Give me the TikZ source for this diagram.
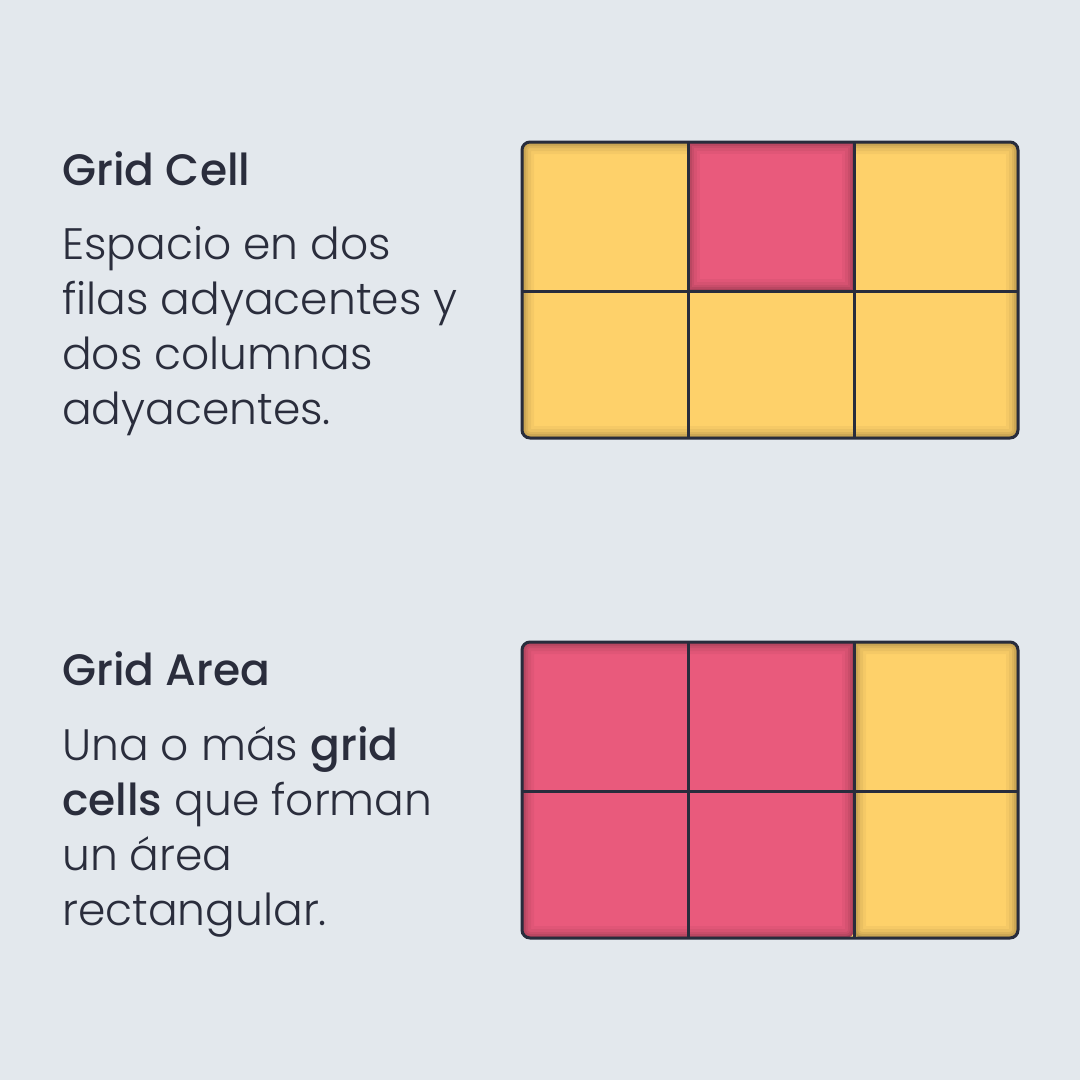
\documentclass[tikz,border=0pt]{standalone}
\usepackage{fontspec}
\setmainfont{Poppins}
\newfontfamily\bodyfont{Poppins Light}
\newfontfamily\titlefont{Poppins Medium}
\definecolor{bg}{HTML}{E3E8ED}
\definecolor{ink}{HTML}{2A2D3C}
\definecolor{gridline}{HTML}{282C3C}
\definecolor{sun}{HTML}{FED16A}
\definecolor{rose}{HTML}{E95A7C}
\tikzset{
  x=1pt, y=-1pt,
  title/.style={anchor=base west, inner sep=0pt, font=\titlefont\fontsize{44}{55}\selectfont, text=ink},
  body/.style={anchor=north west, inner sep=0pt, align=left, font=\bodyfont\fontsize{44}{55}\selectfont, text=ink},
  gline/.style={draw=gridline, line width=3pt},
}
% inset shadow along the border of a closed region
\newcommand\insetshade[1]{%
  \begin{scope}
    \clip #1;
    \foreach \w/\o in {24/0.035,18/0.045,12/0.06,8/0.07,4/0.09}{
      \draw[black, opacity=\o, line width=\w pt] #1;
    }
  \end{scope}}
\begin{document}
\begin{tikzpicture}
\fill[bg] (0,0) rectangle (1080,1080);
\useasboundingbox (0,0) rectangle (1080,1080);

% ---- Grid Cell ----
\node[title] (t1) at (62,185) {Grid Cell};
\node[body] (b1) at (62,226) {Espacio en dos\\filas adyacentes y\\dos columnas\\adyacentes.};

\fill[sun, rounded corners=8pt] (522,142) rectangle (1018,438);
\insetshade{[rounded corners=8pt] (522,142) rectangle (1018,438)}
\fill[rose] (688,142) rectangle (854,291);
\insetshade{(688,142) rectangle (854,291)}
\draw[gline] (522,291) -- (1018,291);
\draw[gline] (688,142) -- (688,438);
\draw[gline] (854,142) -- (854,438);
\draw[gline, rounded corners=8pt] (522,142) rectangle (1018,438);

% ---- Grid Area ----
\node[title] (t2) at (62,685) {Grid Area};
\node[body] (b2) at (62,726) {Una o más {\titlefont grid}\\{\titlefont cells} que forman\\un área\\rectangular.};

\fill[sun, rounded corners=8pt] (522,642) rectangle (1018,938);
\insetshade{[rounded corners=8pt] (854,642) -- (1018,642) -- (1018,938) -- (854,938) [sharp corners] -- cycle}
\fill[rose, rounded corners=8pt] (854,642) -- (522,642) -- (522,938) -- (854,938) [sharp corners] -- cycle;
\insetshade{[rounded corners=8pt] (854,642) -- (522,642) -- (522,938) -- (854,938) [sharp corners] -- cycle}
\draw[gline] (522,791) -- (1018,791);
\draw[gline] (688,642) -- (688,938);
\draw[gline] (854,642) -- (854,938);
\draw[gline, rounded corners=8pt] (522,642) rectangle (1018,938);
\end{tikzpicture}
\end{document}
